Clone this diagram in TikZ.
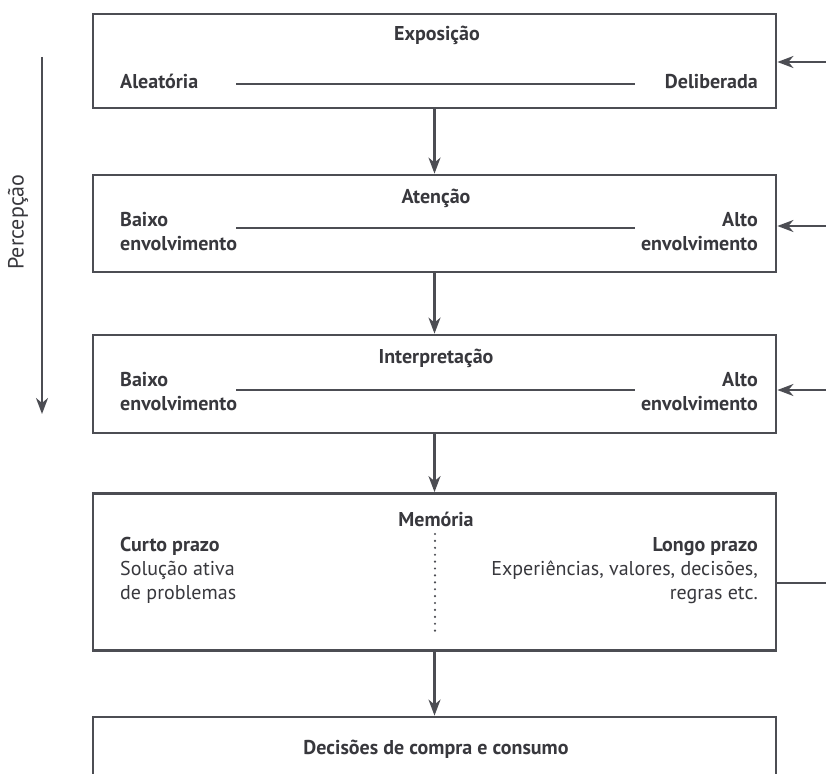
\documentclass[tikz,border=0pt]{standalone}
\usepackage{fontspec}
\setmainfont{PT Sans}
\usetikzlibrary{arrows.meta}
\definecolor{ink}{HTML}{38383D}
\definecolor{linec}{HTML}{4C4D53}
\tikzset{
  box/.style={draw=linec, line width=2.8pt, minimum width=683pt, inner sep=0pt},
  arr/.style={draw=linec, line width=2.2pt, -{Stealth[length=16pt,width=12pt,inset=5pt]}},
  plain/.style={draw=linec, line width=2.2pt},
  hd/.style={text=ink, font=\fontsize{20}{24}\selectfont\bfseries, inner sep=0pt},
  tx/.style={text=ink, font=\fontsize{20}{24}\selectfont, inner sep=0pt},
}
\begin{document}
\begin{tikzpicture}[x=1pt,y=-1pt]
\useasboundingbox (0,0) rectangle (826,773);
\clip (0,0) rectangle (826,773);
\fill[white] (0,0) rectangle (826,773);
% boxes
\node[box, minimum height=94pt] (b1) at (434.5,61) {};
\node[box, minimum height=97pt] (b2) at (434.5,223.5) {};
\node[box, minimum height=98pt] (b3) at (434.5,384) {};
\node[box, minimum height=157pt] (b4) at (434.5,572) {};
\node[box, minimum height=100pt] (b5) at (434.5,767) {};
% vertical arrows
\draw[arr] (b1.south) -- (b2.north);
\draw[arr] (b2.south) -- (b3.north);
\draw[arr] (b3.south) -- (b4.north);
\draw[arr] (b4.south) -- (b5.north);
% feedback from right
\coordinate (f1) at (830,62);
\coordinate (f2) at (830,226);
\coordinate (f3) at (830,390);
\coordinate (f4) at (830,583);
\draw[arr] (f1) -- (f1 -| b1.east);
\draw[arr] (f2) -- (f2 -| b2.east);
\draw[arr] (f3) -- (f3 -| b3.east);
\draw[plain] (f4 -| b4.east) -- (f4);
% perception arrow
\coordinate (p1) at (42,57);
\coordinate (p2) at (42,414);
\draw[arr] (p1) -- (p2);
\node[tx, rotate=90, font=\fontsize{22}{26}\selectfont] (perc) at (18,222) {Percepção};
% box 1
\node[hd, anchor=base] (t1) at (437,41) {Exposição};
\node[hd, anchor=base west] (a1) at (120,89) {Aleatória};
\node[hd, anchor=base east] (d1) at (758,89) {Deliberada};
\coordinate (l1a) at (236,84);
\coordinate (l1b) at (635,84);
\draw[plain] (l1a) -- (l1b);
% box 2
\node[hd, anchor=base] (t2) at (436,203) {Atenção};
\node[hd, anchor=base west] (a2) at (120,226) {Baixo};
\node[hd, anchor=base west] (a2b) at (120,250) {envolvimento};
\node[hd, anchor=base east] (d2) at (758,226) {Alto};
\node[hd, anchor=base east] (d2b) at (758,250) {envolvimento};
\coordinate (l2a) at (236,228);
\coordinate (l2b) at (635,228);
\draw[plain] (l2a) -- (l2b);
% box 3
\node[hd, anchor=base] (t3) at (436,363) {Interpretação};
\node[hd, anchor=base west] (a3) at (120,386) {Baixo};
\node[hd, anchor=base west] (a3b) at (120,410) {envolvimento};
\node[hd, anchor=base east] (d3) at (758,386) {Alto};
\node[hd, anchor=base east] (d3b) at (758,410) {envolvimento};
\coordinate (l3a) at (236,390);
\coordinate (l3b) at (635,390);
\draw[plain] (l3a) -- (l3b);
% box 4
\node[hd, anchor=base] (t4) at (436,526) {Memória};
\node[hd, anchor=base west] (a4) at (120,551) {Curto prazo};
\node[tx, anchor=base west] (a4b) at (120,575) {Solução ativa};
\node[tx, anchor=base west] (a4c) at (120,599) {de problemas};
\node[hd, anchor=base east] (d4) at (758,551) {Longo prazo};
\node[tx, anchor=base east] (d4b) at (758,575) {Experiências, valores, decisões,};
\node[tx, anchor=base east] (d4c) at (758,599) {regras etc.};
\coordinate (m1) at (435,534);
\coordinate (m2) at (435,634);
\draw[draw=linec, line width=2.4pt, line cap=round, dash pattern=on 0pt off 6.9pt] (m1) -- (m2);
% box 5
\node[hd, anchor=base] (t5) at (436,754) {Decisões de compra e consumo};
\end{tikzpicture}
\end{document}
